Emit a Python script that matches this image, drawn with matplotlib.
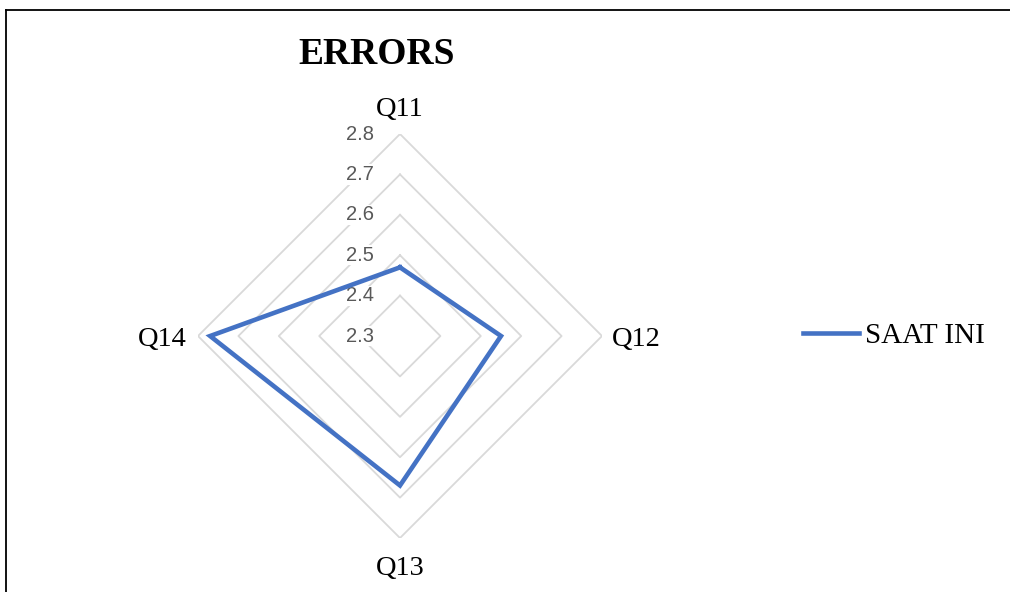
import numpy as np
import matplotlib.pyplot as plt
from matplotlib.lines import Line2D

categories = ["Q11", "Q12", "Q13", "Q14"]
values = [2.47, 2.55, 2.67, 2.77]
series_name = "SAAT INI"
r_ticks = [2.3, 2.4, 2.5, 2.6, 2.7, 2.8]
r_labels = ["2.3", "2.4", "2.5", "2.6", "2.7", "2.8"]

blue = "#4472C4"
grid_col = "#d9d9d9"

fig = plt.figure(figsize=(10.1, 5.92), dpi=100)
ax = fig.add_axes([0.19604, 0.0912, 0.4, 0.6824], projection="polar")
ax.set_theta_zero_location("N")
ax.set_theta_direction(-1)
ax.set_ylim(r_ticks[0], r_ticks[-1])
ax.grid(False)
ax.set_xticks([])
ax.set_yticks([])
ax.spines["polar"].set_visible(False)
ax.patch.set_alpha(0)

angles = np.linspace(0, 2 * np.pi, len(categories), endpoint=False)
closed = np.append(angles, angles[0])

# diamond gridlines
for r in r_ticks[1:]:
    ax.plot(closed, [r] * len(closed), color=grid_col, lw=1.3, zorder=1)

# radial value labels, left of the top spoke
for r, lab in zip(r_ticks, r_labels):
    ax.annotate(lab, xy=(0, r), xytext=(-26, 0), textcoords="offset pixels",
                ha="right", va="center", fontsize=14.5, color="#595959",
                family="Liberation Sans", zorder=2,
                bbox=dict(facecolor="white", edgecolor="none", pad=0.5))

# data
ax.plot(closed, values + values[:1], color=blue, lw=3.3, zorder=3,
        solid_joinstyle="miter", label=series_name)

# category labels
offsets = [(0, 25, "center"), (10, -3, "left"), (0, -30, "center"), (-11, -3, "right")]
for ang, cat, (dx, dy, ha) in zip(angles, categories, offsets):
    ax.annotate(cat, xy=(ang, r_ticks[-1]), xytext=(dx, dy), textcoords="offset pixels",
                ha=ha, va="center", fontsize=20.5, family="Liberation Serif",
                annotation_clip=False)

fig.text(377 / 1010, 1 - 54 / 592, "ERRORS", ha="center", va="center",
         fontsize=27, fontweight="bold", family="Liberation Serif")

fig.legend(loc="center left", bbox_to_anchor=(803 / 1010, 1 - 336 / 592),
           frameon=False, borderpad=0, borderaxespad=0, handlelength=1.93,
           handletextpad=0.18, prop={"family": "Liberation Serif", "size": 21})

# chart border (top and left edges visible)
fig.add_artist(Line2D([6 / 1010, 6 / 1010], [0, 1 - 10 / 592], color="black", lw=1.3))
fig.add_artist(Line2D([6 / 1010, 1], [1 - 10 / 592, 1 - 10 / 592], color="black", lw=1.3))

fig.savefig("out.png", dpi=100)
